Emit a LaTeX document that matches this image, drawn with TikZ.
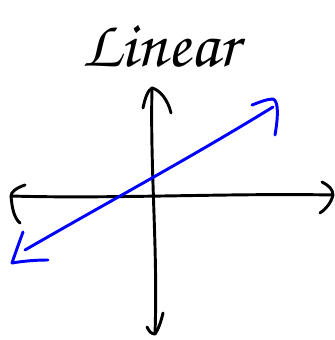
\documentclass[tikz,border=0pt]{standalone}
\begin{document}
\begin{tikzpicture}[x=0.75pt,y=-0.75pt,line cap=round,line join=round,
	strich/.style={line width=2.2pt,black},
	gerade/.style={line width=2.2pt,blue}]
	
	\useasboundingbox (0,0) rectangle (335,340);
	
	% Titel
	\node (titel) at (160,46) {\fontencoding{T1}\fontfamily{pzc}\fontsize{50}{50}\selectfont Linear};
	
	% Punkte
	\coordinate (xl) at (11,196);
	\coordinate (xr) at (333,195);
	\coordinate (yo) at (152,88);
	\coordinate (yu) at (155,334);
	\coordinate (gl) at (25,250);
	\coordinate (gr) at (273,107);
	
	% Achsen
	\draw[strich] (xl) .. controls (110,199) and (230,193) .. (xr);
	\draw[strich] (yo) .. controls (150,170) and (158,250) .. (yu);
	
	% Pfeile x
	\draw[strich] (25,185) .. controls (16,188) and (11,192) .. (11,196)
	.. controls (12,208) and (14,218) .. (20,223);
	\draw[strich] (322,182) .. controls (328,185) and (333,189) .. (333,195)
	.. controls (331,203) and (326,209) .. (320,213);
	
	% Pfeile y
	\draw[strich] (143,108) .. controls (145,98) and (148,90) .. (yo)
	.. controls (160,90) and (168,100) .. (171,113);
	\draw[strich] (147,327) .. controls (149,331) and (151,334) .. (yu)
	.. controls (158,330) and (161,322) .. (163,313);
	
	% Gerade
	\draw[gerade] (gl) .. controls (110,201) and (190,158) .. (gr);
	\draw[gerade] (252,105) .. controls (260,102) and (267,99) .. (273,99)
	.. controls (279,101) and (278,118) .. (275,135);
	\draw[gerade] (23,232) .. controls (19,243) and (15,254) .. (12,263)
	.. controls (24,261) and (36,260) .. (48,260);
	
\end{tikzpicture}
\end{document}
